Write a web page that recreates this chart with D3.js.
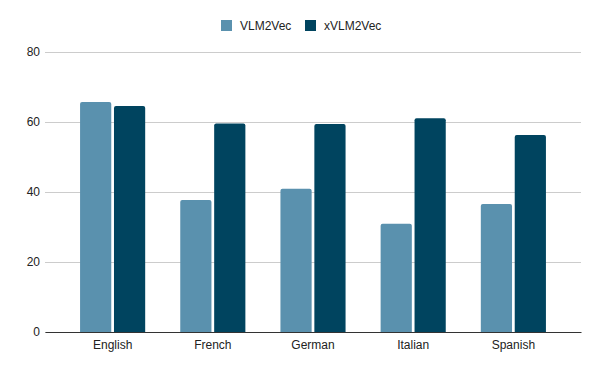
<!DOCTYPE html>
<html>
<head>
<meta charset="utf-8">
<script src="https://cdn.jsdelivr.net/npm/d3@7"></script>
<style>
  body { margin: 0; background: #fff; }
</style>
</head>
<body>
<div id="chart"></div>
<script>
const languages = ["English", "French", "German", "Italian", "Spanish"];
const seriesNames = ["VLM2Vec", "xVLM2Vec"];
const vlm2vec = [65.7, 37.7, 40.9, 30.9, 36.6];
const xvlm2vec = [64.6, 59.6, 59.4, 61.1, 56.3];
const yTicks = [0, 20, 40, 60, 80];

const colors = ["#5a91ae", "#00445f"];
const font = "Liberation Sans, Arial, sans-serif";

const rows = languages.map((lang, i) => ({ lang, values: [vlm2vec[i], xvlm2vec[i]] }));

const svg = d3.select("#chart")
  .append("svg")
  .attr("width", 600)
  .attr("height", 371);

const xScale = d3.scaleBand()
  .domain(languages)
  .range([45, 581])
  .paddingInner(0.35)
  .paddingOuter(0.35);

const x1 = d3.scaleBand()
  .domain(seriesNames)
  .range([0, xScale.bandwidth()])
  .paddingInner(0.08);

const yScale = d3.scaleLinear()
  .domain([0, 80])
  .range([332, 52]);

// gridlines + y labels
const yAxis = d3.axisLeft(yScale)
  .tickValues(yTicks)
  .tickSize(-(581 - 45))
  .tickPadding(5);

const yAxisGroup = svg.append("g")
  .attr("transform", "translate(45,0)")
  .call(yAxis);

yAxisGroup.select(".domain").remove();

yAxisGroup.selectAll(".tick line")
  .attr("stroke", "#cccccc")
  .attr("stroke-width", 1);

yAxisGroup.selectAll(".tick text")
  .attr("fill", "#222")
  .attr("font-size", 12)
  .attr("font-family", font);

// bars with rounded tops
const r = 2;
function barPath(x, y, w, h) {
  return `M${x},${y + h} V${y + r} Q${x},${y} ${x + r},${y} H${x + w - r} Q${x + w},${y} ${x + w},${y + r} V${y + h} Z`;
}

const groups = svg.append("g")
  .selectAll("g")
  .data(rows)
  .join("g")
  .attr("transform", d => `translate(${xScale(d.lang)},0)`);

groups.selectAll("path")
  .data(d => d.values.map((v, i) => ({ name: seriesNames[i], value: v, idx: i })))
  .join("path")
  .attr("d", d => barPath(x1(d.name), yScale(d.value), x1.bandwidth(), yScale(0) - yScale(d.value)))
  .attr("fill", d => colors[d.idx]);

// x axis
const xAxis = d3.axisBottom(xScale)
  .tickSize(0)
  .tickPadding(8);

const xAxisGroup = svg.append("g")
  .attr("transform", "translate(0,332)")
  .call(xAxis);

xAxisGroup.select(".domain")
  .attr("stroke", "#333")
  .attr("stroke-width", 1.2);

xAxisGroup.selectAll(".tick text")
  .attr("fill", "#222")
  .attr("font-size", 12)
  .attr("font-family", font);

// legend
const legendPos = [221, 305];
const legend = svg.append("g");
seriesNames.forEach((name, i) => {
  legend.append("rect")
    .attr("x", legendPos[i])
    .attr("y", 20)
    .attr("width", 11)
    .attr("height", 11)
    .attr("fill", colors[i]);
  legend.append("text")
    .text(name)
    .attr("x", legendPos[i] + 19)
    .attr("y", 29.5)
    .attr("fill", "#222")
    .attr("font-size", 12)
    .attr("font-family", font);
});
</script>
</body>
</html>
